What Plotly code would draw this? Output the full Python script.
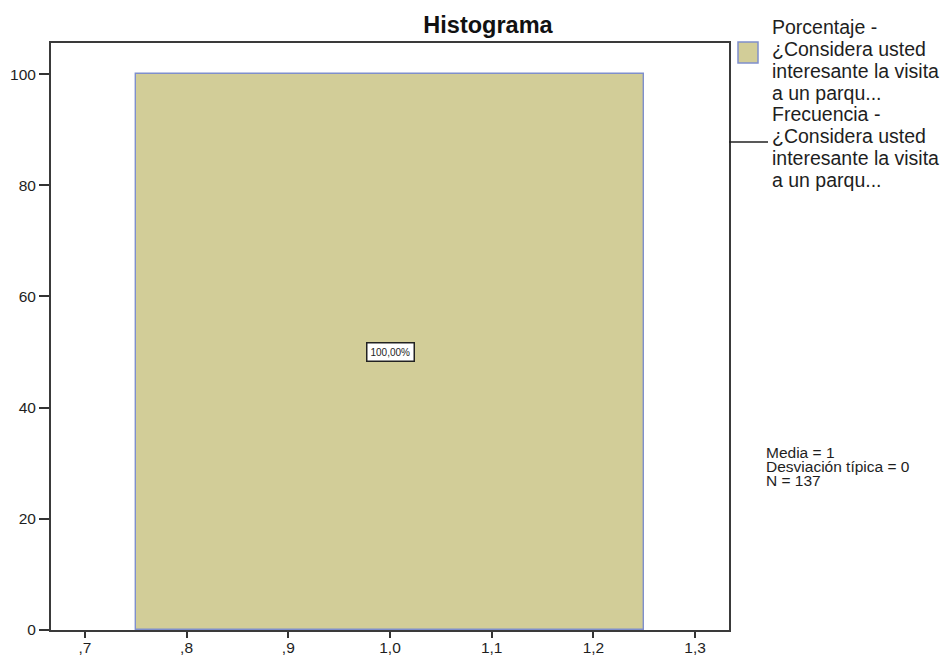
import plotly.graph_objects as go

# Data
bin_centers = [1.0]
bin_width = [0.5]
percentages = [100.0]
bar_label = ["100,00%"]
x_tick_vals = [0.7, 0.8, 0.9, 1.0, 1.1, 1.2, 1.3]
x_tick_text = [",7", ",8", ",9", "1,0", "1,1", "1,2", "1,3"]
y_tick_vals = [0, 20, 40, 60, 80, 100]
legend_pct = ["Porcentaje -", "¿Considera usted", "interesante la visita", "a un parqu..."]
legend_freq = ["Frecuencia -", "¿Considera usted", "interesante la visita", "a un parqu..."]
stats_lines = ["Media = 1", "Desviación típica = 0", "N = 137"]

W, H = 948, 662
L, R, T, B = 51, 729, 43, 630

def px(x):
    return (x - L) / (R - L)

def py(y):
    return (B - y) / (B - T)

FILL = "#D2CD98"
EDGE = "#7F8FCC"
FONT = "Liberation Sans, Arial, sans-serif"
TXT = "#1e1e1e"

fig = go.Figure()
fig.add_trace(go.Bar(
    x=bin_centers, y=percentages, width=bin_width,
    marker=dict(color=FILL, line=dict(color=EDGE, width=1.4)),
    showlegend=False, hoverinfo="skip",
))

annotations = []
# bar label
annotations.append(dict(
    x=bin_centers[0], y=percentages[0] / 2, xref="x", yref="y",
    text=bar_label[0], showarrow=False,
    font=dict(family=FONT, size=10, color=TXT),
    bgcolor="white", bordercolor="#222", borderwidth=1.5, borderpad=3,
))

# legend texts
for i, t in enumerate(legend_pct):
    annotations.append(dict(x=px(770), y=py(27 + 22 * i), xref="paper", yref="paper",
                            xanchor="left", yanchor="middle", text=t, showarrow=False,
                            font=dict(family=FONT, size=19.5, color=TXT)))
for i, t in enumerate(legend_freq):
    annotations.append(dict(x=px(770), y=py(114 + 22 * i), xref="paper", yref="paper",
                            xanchor="left", yanchor="middle", text=t, showarrow=False,
                            font=dict(family=FONT, size=19.5, color=TXT)))
# stats
for i, t in enumerate(stats_lines):
    annotations.append(dict(x=px(764), y=py(452 + 14 * i), xref="paper", yref="paper",
                            xanchor="left", yanchor="middle", text=t, showarrow=False,
                            font=dict(family=FONT, size=15.5, color=TXT)))

shapes = [
    dict(type="rect", xref="paper", yref="paper",
         x0=px(738), x1=px(758), y0=py(63), y1=py(42),
         fillcolor=FILL, line=dict(color=EDGE, width=1.5)),
    dict(type="line", xref="paper", yref="paper",
         x0=px(729), x1=px(768), y0=py(142), y1=py(142),
         line=dict(color="#222", width=1.5)),
]

fig.update_layout(
    width=W, height=H,
    margin=dict(l=L, r=W - R, t=T, b=H - B, pad=0, autoexpand=False),
    paper_bgcolor="white", plot_bgcolor="white",
    title=dict(text="<b>Histograma</b>", x=488 / W, xref="container", xanchor="center",
               y=1 - 25 / H, yref="container", yanchor="middle",
               font=dict(family=FONT, size=23.5, color="#111")),
    annotations=annotations, shapes=shapes,
    showlegend=False,
    bargap=0,
)
fig.update_xaxes(range=[0.6667, 1.3333], tickvals=x_tick_vals, ticktext=x_tick_text,
                 automargin=False, ticklabelstandoff=-4,
                 showgrid=False, zeroline=False, showline=True, mirror=True,
                 linecolor="#3a3a3a", linewidth=2, ticks="outside", ticklen=6,
                 tickcolor="#333", tickwidth=2,
                 tickfont=dict(family=FONT, size=15.5, color=TXT))
fig.update_yaxes(range=[0, 105.6], tickvals=y_tick_vals,
                 automargin=False,
                 showgrid=False, zeroline=False, showline=True, mirror=True,
                 linecolor="#3a3a3a", linewidth=2, ticks="outside", ticklen=10,
                 tickcolor="#333", tickwidth=2,
                 tickfont=dict(family=FONT, size=15.5, color=TXT))

fig.write_html("out.html", config={"displayModeBar": False},
               post_script="document.body.style.margin='0';")
